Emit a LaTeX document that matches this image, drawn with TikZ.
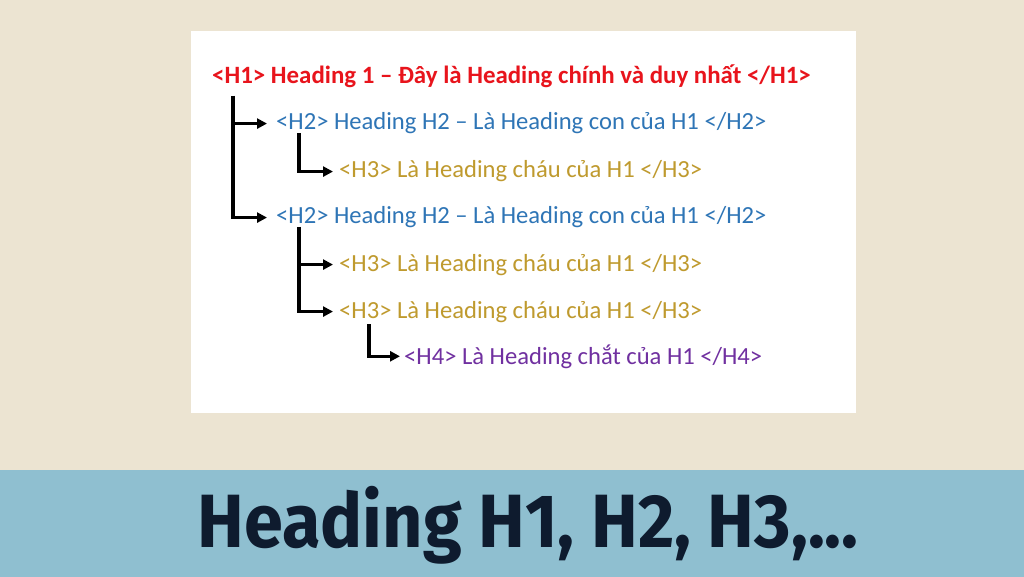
\documentclass[tikz,border=0pt]{standalone}
\usepackage{fontspec}
\setmainfont{Carlito}
\newfontfamily\titlefont[FakeStretch=0.93]{Fira Sans}
\usetikzlibrary{arrows.meta,calc}
\definecolor{bgbeige}{HTML}{ECE4D2}
\definecolor{bandblue}{HTML}{8FBFD0}
\definecolor{titlenavy}{HTML}{0E1B2E}
\definecolor{hred}{HTML}{E8141C}
\definecolor{hblue}{HTML}{2E75B6}
\definecolor{hgold}{HTML}{BF9A2E}
\definecolor{hpurple}{HTML}{7030A0}
\tikzset{
  lvl/.style={anchor=base west, inner sep=0pt, font=\fontsize{24.6}{28}\selectfont},
  conn/.style={line width=3.3pt, -{Triangle[length=10pt,width=10pt]}, black},
}
\begin{document}
\begin{tikzpicture}[x=1pt,y=-1pt]
\useasboundingbox (0,0) rectangle (1024,577);
\fill[bgbeige] (0,0) rectangle (1024,470);
\fill[bandblue] (0,470) rectangle (1024,577);
\fill[white] (191,31) rectangle (856,413);
\node[lvl, text=hred, font=\fontsize{24.9}{28}\selectfont\bfseries] (h1) at (212,84) {<H1> Heading 1 – Đây là Heading chính và duy nhất </H1>};
\node[lvl, text=hblue] (h2a) at (276,130) {<H2> Heading H2 – Là Heading con của H1 </H2>};
\node[lvl, text=hgold] (h3a) at (339,178) {<H3> Là Heading cháu của H1 </H3>};
\node[lvl, text=hblue] (h2b) at (276,224) {<H2> Heading H2 – Là Heading con của H1 </H2>};
\node[lvl, text=hgold] (h3b) at (339,271) {<H3> Là Heading cháu của H1 </H3>};
\node[lvl, text=hgold] (h3c) at (339,318) {<H3> Là Heading cháu của H1 </H3>};
\node[lvl, text=hpurple] (h4) at (404,364) {<H4> Là Heading chắt của H1 </H4>};
% connectors
\coordinate (c1) at ($(h1.base west)+(21,12)$);
\draw[conn] (c1) |- ([xshift=-9pt]h2a.west);
\draw[conn] (c1) |- ([xshift=-9pt]h2b.west);
\coordinate (c2) at ($(h2a.base west)+(23,3)$);
\draw[conn] (c2) |- ([xshift=-6pt]h3a.west);
\coordinate (c3) at ($(h2b.base west)+(23,3)$);
\draw[conn] (c3) |- ([xshift=-6pt]h3b.west);
\draw[conn] (c3) |- ([xshift=-6pt]h3c.west);
\coordinate (c4) at ($(h3c.base west)+(30,6)$);
\draw[conn] (c4) |- ([xshift=-4pt]h4.west);
\node[text=titlenavy, font=\titlefont\bfseries\fontsize{75.5}{80}\selectfont, inner sep=0pt, anchor=base] (title) at (528,547) {Heading H1, H2, H3,...};
\end{tikzpicture}
\end{document}
